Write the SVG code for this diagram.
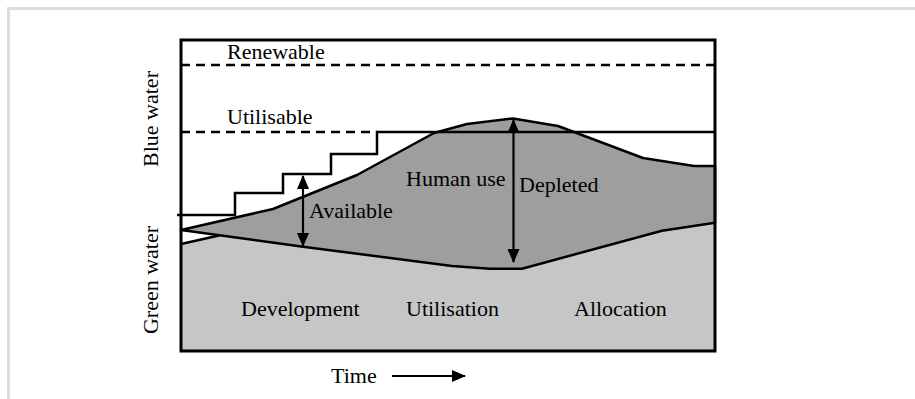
<svg xmlns="http://www.w3.org/2000/svg" width="915" height="399" viewBox="0 0 915 399">
  <style>
    text { font-family: "Liberation Serif", "Times New Roman", serif; font-size: 22px; fill: #000; }
    .ln { fill: none; stroke: #000; stroke-width: 2.5; stroke-linejoin: miter; }
    .dash { fill: none; stroke: #000; stroke-width: 2.5; stroke-dasharray: 9 6; }
    .arr { fill: none; stroke: #000; stroke-width: 2.2; }
  </style>
  <defs>
    <marker id="ah" viewBox="0 0 14 12" refX="13" refY="6" markerWidth="14" markerHeight="12" markerUnits="userSpaceOnUse" orient="auto-start-reverse">
      <path d="M0,0 L14,6 L0,12 Z" fill="#000"/>
    </marker>
  </defs>
  <rect width="915" height="399" fill="#fff"/>
  <path d="M8.5,399 V8.5 H915" fill="none" stroke="#dddddd" stroke-width="3"/>

  <g id="green-water-area">
    <polygon points="181,244 220,235.3 303,246.7 452,266 490,268.7 522,268.7 662,230.7 715,222.7 715,351 181,351" fill="#c6c6c6"/>
    <polyline class="ln" points="181,244 220,235.3"/>
  </g>
  <g id="human-use-area">
    <polygon points="181,230 273,209 357,175 434,133 467,124 513,118.5 558,126 643,158 694,166 715,166 715,222.7 662,230.7 522,268.7 490,268.7 452,266 303,246.7" fill="#9f9e9f" stroke="#000" stroke-width="2.5" stroke-linejoin="round"/>
  </g>
  <g id="renewable">
    <line class="dash" x1="181" y1="65" x2="715" y2="65"/>
    <text x="227" y="59">Renewable</text>
  </g>
  <g id="utilisable">
    <line class="dash" x1="181" y1="132" x2="377" y2="132"/>
    <polyline class="ln" points="177,215 235,215 235,193 283,193 283,174 331,174 331,154 377,154 377,132 715,132"/>
    <text x="227" y="124">Utilisable</text>
  </g>
  <g id="frame">
    <rect x="181" y="40" width="534" height="311" fill="none" stroke="#000" stroke-width="3"/>
  </g>
  <g id="connectors">
    <line class="arr" x1="303" y1="176" x2="303" y2="246" marker-start="url(#ah)" marker-end="url(#ah)"/>
    <line class="arr" x1="513.5" y1="120" x2="513.5" y2="262" marker-start="url(#ah)" marker-end="url(#ah)"/>
    <line class="arr" x1="392" y1="376" x2="465" y2="376" marker-end="url(#ah)"/>
  </g>
  <g id="labels">
    <text x="309" y="218">Available</text>
    <text x="406" y="186">Human use</text>
    <text x="519" y="192">Depleted</text>
    <text x="241" y="316">Development</text>
    <text x="406" y="316">Utilisation</text>
    <text x="574" y="316">Allocation</text>
    <text x="331" y="383">Time</text>
  </g>
  <g id="axis-labels">
    <text transform="translate(158,119) rotate(-90)" text-anchor="middle">Blue water</text>
    <text transform="translate(158,280) rotate(-90)" text-anchor="middle">Green water</text>
  </g>
</svg>
